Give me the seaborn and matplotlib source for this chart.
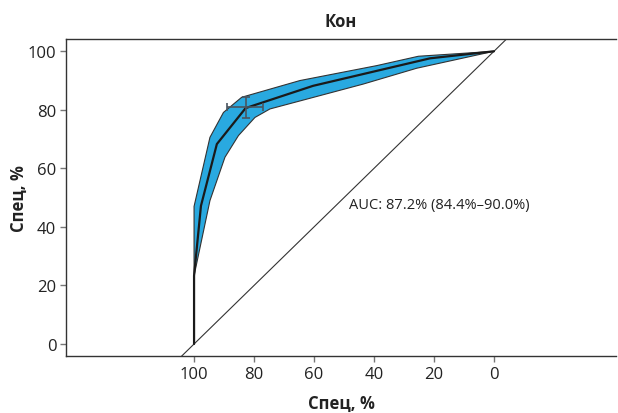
import matplotlib
matplotlib.use("Agg")
import matplotlib.pyplot as plt
import seaborn as sns
import pandas as pd
import numpy as np

# Data
roc_x = [100, 100, 97.7, 92.4, 82.8, 60.3, 21.3, 0]
roc_y = [0, 23.3, 47.2, 68.3, 80.6, 88.2, 97.6, 100]

upper_x = [100, 100, 94.7, 90.2, 84.1, 64.7, 39.1, 25.2, 0]
upper_y = [23.3, 47, 70.6, 79.1, 84.3, 90.0, 95.1, 98.3, 100]

lower_x = [100, 94.7, 89.7, 85.2, 79.7, 74.7, 43.6, 25.8, 0]
lower_y = [23.3, 49, 63.8, 71.2, 77.4, 80.3, 88.8, 94.2, 100]

cut_x, cut_y = 82.8, 80.9
cut_xerr = [88.6, 76.7]
cut_yerr = [77.2, 84.5]

diag = [-45, 150]
x_ticks = [100, 80, 60, 40, 20, 0]
y_ticks = [0, 20, 40, 60, 80, 100]

title = "Кон"
xlabel = "Спец, %"
ylabel = "Спец, %"
auc_text = "AUC: 87.2% (84.4%–90.0%)"

sns.set_style("white")
plt.rcParams["font.family"] = ["Open Sans", "DejaVu Sans"]

fig = plt.figure(figsize=(6.18, 4.14), dpi=100)
ax = fig.add_axes([0.1068, 0.1377, 0.89, 0.7657])

# diagonal
sns.lineplot(x=diag, y=[100 - d for d in diag], ax=ax, color="#333333", lw=0.8,
             sort=False, estimator=None)

# confidence band
poly_x = upper_x + lower_x[::-1]
poly_y = upper_y + lower_y[::-1]
ax.fill(poly_x, poly_y, facecolor="#29a9e0", edgecolor="#333333", lw=0.8, zorder=2)

# ROC line
df = pd.DataFrame({"x": roc_x, "y": roc_y})
sns.lineplot(data=df, x="x", y="y", ax=ax, color="#1a1a1a", lw=1.6, sort=False,
             estimator=None, zorder=3)

# cutoff cross
ax.errorbar([cut_x], [cut_y],
            xerr=[[cut_xerr[0] - cut_x], [cut_x - cut_xerr[1]]],
            yerr=[[cut_y - cut_yerr[0]], [cut_yerr[1] - cut_y]],
            fmt="none", ecolor="#4a5560", elinewidth=1.2, capsize=3, capthick=1.2, zorder=4)

ax.text(48.3, 47.8, auc_text, fontsize=10.5, color="#222222", va="center", ha="left")

ax.set_xlim(142.7, -40.7)
ax.set_ylim(-4.1, 104.2)
ax.set_xticks(x_ticks)
ax.set_yticks(y_ticks)
ax.tick_params(axis="both", labelsize=12, labelcolor="#222222", length=4, width=1,
               direction="out", bottom=True, left=True, pad=3, color="#777777")
for s in ["left", "bottom", "top"]:
    ax.spines[s].set_color("#333333")
    ax.spines[s].set_linewidth(1.0)
ax.spines["right"].set_visible(False)

ax.set_title(title, fontsize=12, fontweight="bold", color="#222222", pad=9)
ax.set_xlabel(xlabel, fontsize=12, fontweight="bold", color="#222222", labelpad=9)
ax.set_ylabel(ylabel, fontsize=12, fontweight="bold", color="#222222", labelpad=0)

fig.savefig("out.png", dpi=100)
